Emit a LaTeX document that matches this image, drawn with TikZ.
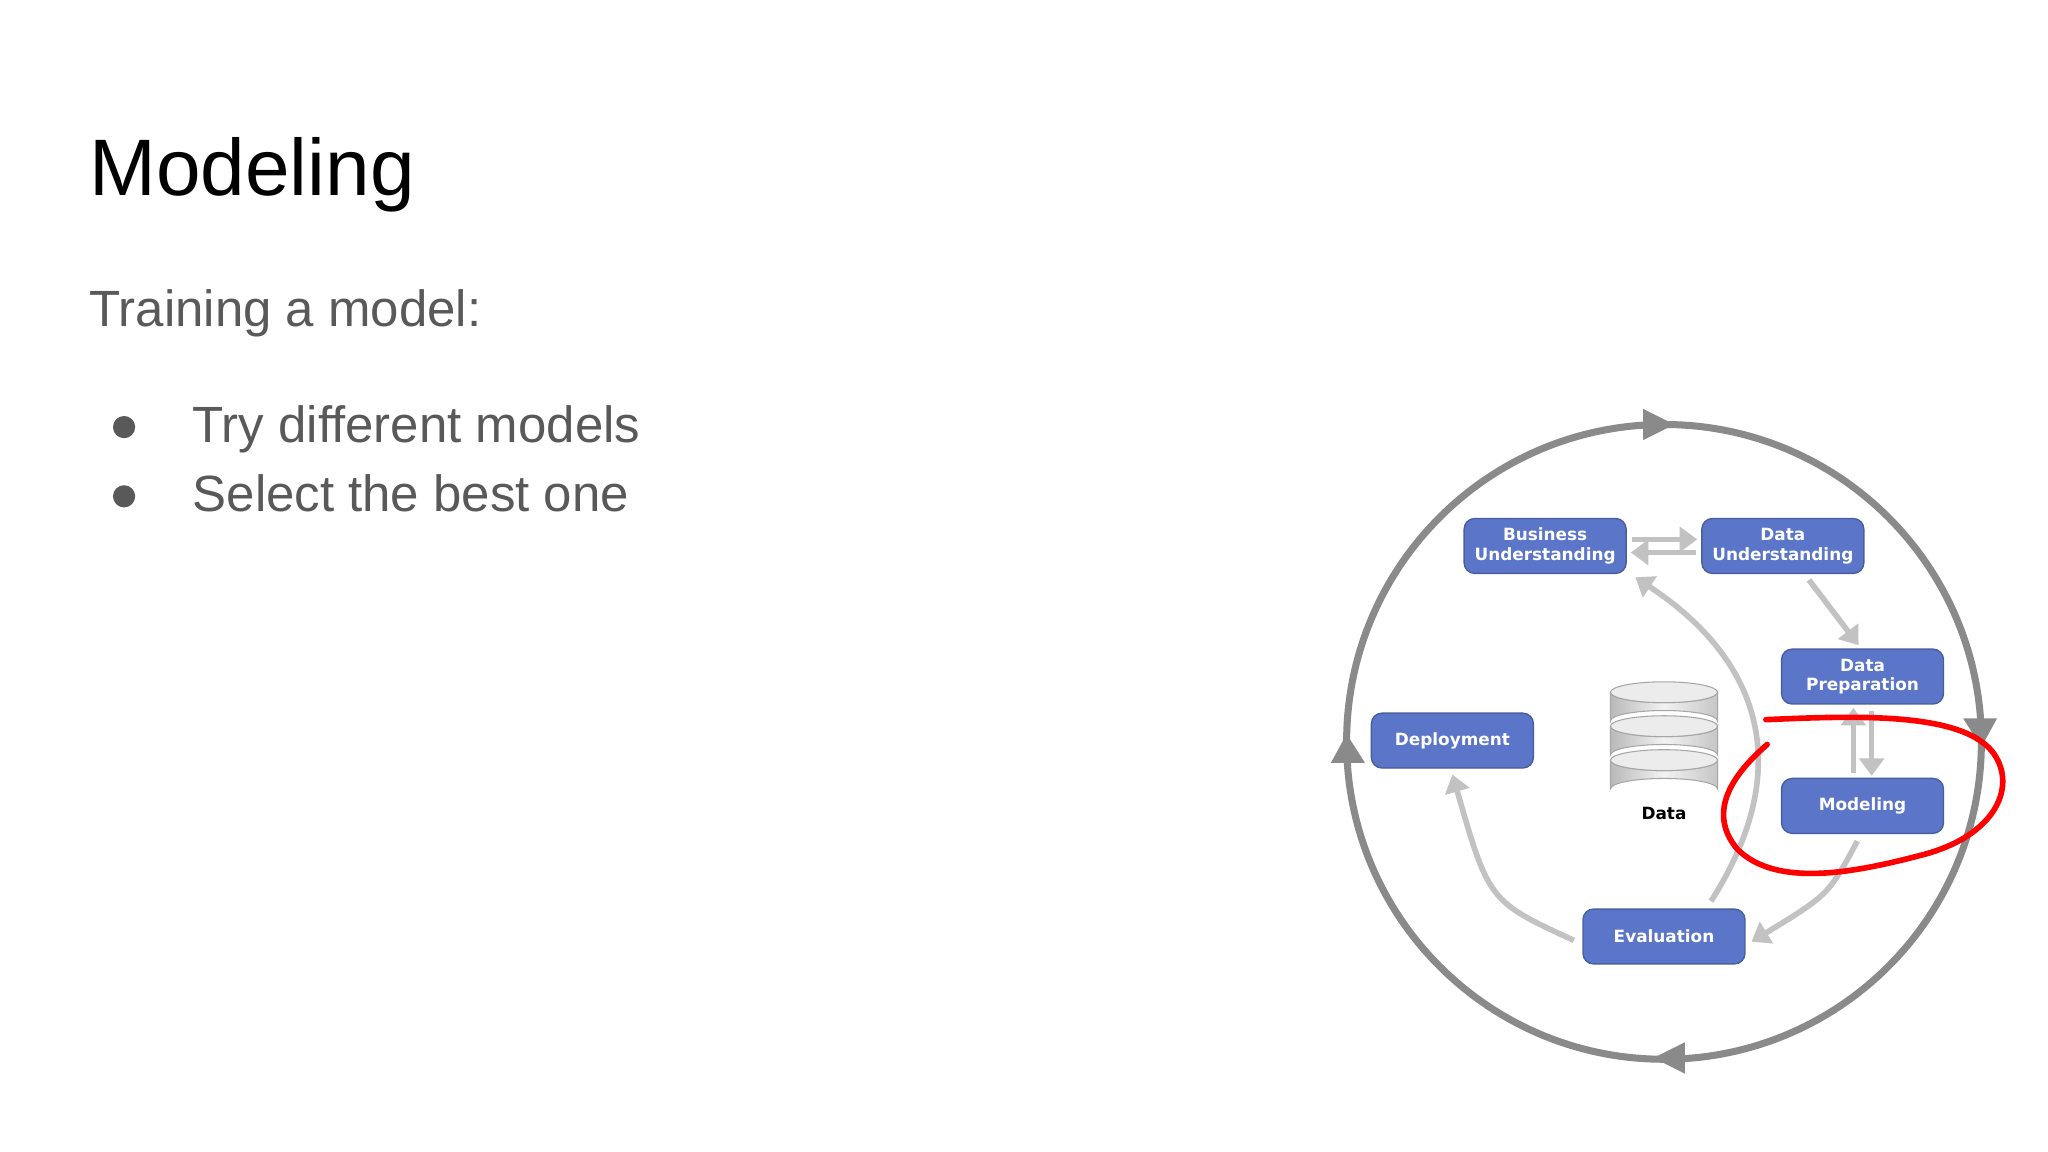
\documentclass[tikz,border=0pt]{standalone}
\usepackage{fontspec}
\setmainfont{Liberation Sans}
\newfontfamily\boxfont{DejaVu Sans}
\usetikzlibrary{arrows.meta,shapes.geometric}
\definecolor{boxblue}{HTML}{5B76C8}
\definecolor{txtgray}{HTML}{595959}
\definecolor{ringgray}{HTML}{8A8A8A}
\definecolor{arrgray}{HTML}{C2C2C2}
\tikzset{
  stagebox/.style={draw=boxblue!80!black, fill=boxblue, rounded corners=3pt, minimum width=124*0.013061cm, minimum height=42*0.013061cm, inner sep=0pt, align=center, text=white, font=\boxfont\bfseries\fontsize{4.8}{5.6}\selectfont},
  flow/.style={draw=arrgray, line width=1.6pt, -{Triangle[length=5pt,width=7pt]}},
  ring/.style={draw=ringgray, line width=2pt},
  ringtip/.style={fill=ringgray, draw=none},
  disk/.style={draw=gray!70, left color=gray!55, right color=gray!45, middle color=gray!10, line width=0.3pt},
  disktop/.style={draw=gray!70, fill=gray!15, line width=0.3pt}
}
\begin{document}
\begin{tikzpicture}[x=0.013061cm,y=-0.013061cm]
\useasboundingbox[fill=white] (0,0) rectangle (1568,882);
\node[anchor=base west, inner sep=0pt, font=\fontsize{22.8}{27}\selectfont] (title) at (68,150) {Modeling};
\node[anchor=base west, inner sep=0pt, text=txtgray, font=\fontsize{14.5}{17}\selectfont] (sub) at (68,250) {Training a model:};
\node[anchor=base west, inner sep=0pt, text=txtgray, font=\fontsize{14.5}{17}\selectfont] (b1) at (147,339) {Try different models};
\node[anchor=base west, inner sep=0pt, text=txtgray, font=\fontsize{14.5}{17}\selectfont] (b2) at (147,392) {Select the best one};
\fill[txtgray] (95,327) circle (8.5) (95,380) circle (8.5);
% ring
\coordinate (c) at (1274,568);
\draw[ring] (c) circle (243);
\fill[ringtip] (1258,313) -- (1282,325) -- (1258,337) -- cycle;
\fill[ringtip] (1503,550) -- (1517,572) -- (1529,550) -- cycle;
\fill[ringtip] (1290,798) -- (1266,810) -- (1290,822) -- cycle;
\fill[ringtip] (1019,584) -- (1031,562) -- (1045,584) -- cycle;
% boxes
\node[stagebox] (bu) at (1183,418) {Business\\Understanding};
\node[stagebox] (du) at (1365,418) {Data\\Understanding};
\node[stagebox] (dp) at (1426,518) {Data\\Preparation};
\node[stagebox] (mo) at (1426,617) {Modeling};
\node[stagebox] (de) at (1112,567) {Deployment};
\node[stagebox] (ev) at (1274,717) {Evaluation};
% data stack
\foreach \yy in {582,556,530}{
  \path[disk] (1233,\yy) -- (1233,\yy+22) arc[start angle=180,end angle=360,x radius=41,y radius=8] -- (1315,\yy) arc[start angle=0,end angle=180,x radius=41,y radius=8];
  \path[disktop] (1274,\yy) ellipse[x radius=41,y radius=8];
}
\node[font=\boxfont\bfseries\fontsize{4.8}{5.6}\selectfont] (dl) at (1274,623) {Data};
% flows
\draw[flow] ([yshift=5*0.013061cm,xshift=4*0.013061cm]bu.east) -- ([yshift=5*0.013061cm,xshift=-3*0.013061cm]du.west);
\draw[flow] ([yshift=-5*0.013061cm,xshift=-4*0.013061cm]du.west) -- ([yshift=-5*0.013061cm,xshift=3*0.013061cm]bu.east);
\draw[flow] (1385,444) -- (1423,494);
\draw[flow] (1419,592) -- (1419,542);
\draw[flow] (1433,544) -- (1433,594);
\draw[flow] (1422,644) .. controls (1400,685) .. (1341,721);
\draw[flow] (1310,690) .. controls (1380,580) and (1340,500) .. (1252,442);
\draw[flow] (1205,720) .. controls (1140,690) .. (1112,593);
% red loop
\draw[red, line width=1.6pt, line cap=round] (1352,551) .. controls (1420,548) and (1500,545) .. (1525,575)
  .. controls (1545,600) and (1530,640) .. (1470,655)
  .. controls (1420,668) and (1360,680) .. (1330,650)
  .. controls (1305,620) and (1330,590) .. (1353,570);
\end{tikzpicture}
\end{document}
